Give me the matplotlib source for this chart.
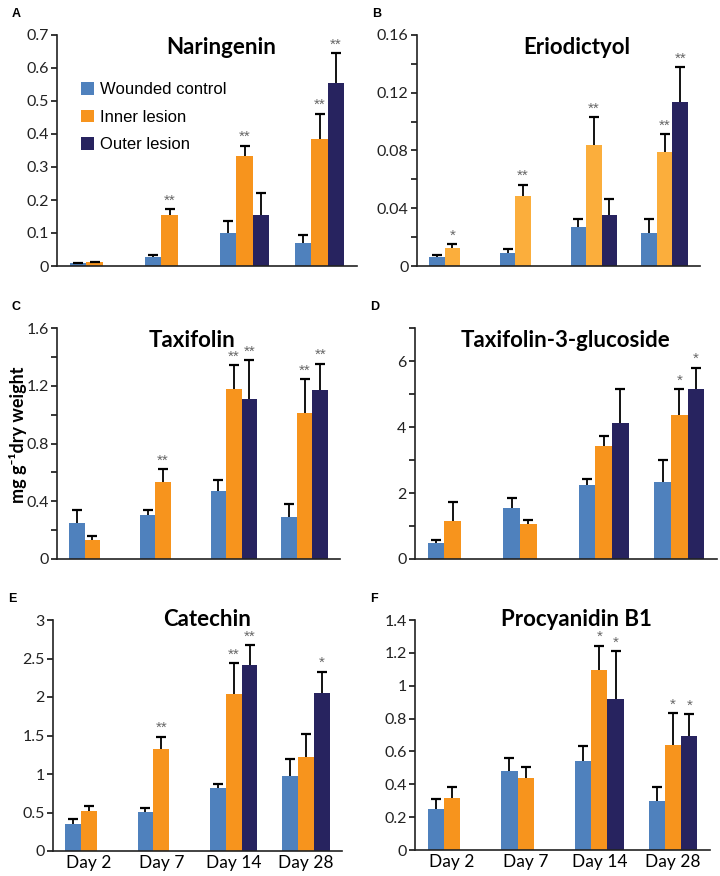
import numpy as np
import matplotlib
matplotlib.use("Agg")
import matplotlib.pyplot as plt
from matplotlib.ticker import MultipleLocator

nan = np.nan

days = ["Day 2", "Day 7", "Day 14", "Day 28"]
series = ["Wounded control", "Inner lesion", "Outer lesion"]

# means per series: wounded control, inner lesion, outer lesion
naringenin_mean = [[0.008, 0.026, 0.099, 0.070], [0.011, 0.156, 0.334, 0.384], [nan, nan, 0.154, 0.555]]
naringenin_err = [[0.002, 0.006, 0.037, 0.025], [0.002, 0.016, 0.031, 0.078], [nan, nan, 0.068, 0.089]]
naringenin_sig = [["", "", "", ""], ["", "**", "**", "**"], ["", "", "", "**"]]

eriodictyol_mean = [[0.0065, 0.0092, 0.0268, 0.0231], [0.0127, 0.0486, 0.0835, 0.0788], [nan, nan, 0.0351, 0.1133]]
eriodictyol_err = [[0.0009, 0.0028, 0.0056, 0.0097], [0.0026, 0.0078, 0.0199, 0.0125], [nan, nan, 0.0114, 0.0247]]
eriodictyol_sig = [["", "", "", ""], ["*", "**", "**", "**"], ["", "", "", "**"]]

taxifolin_mean = [[0.252, 0.302, 0.473, 0.291], [0.134, 0.533, 1.175, 1.009], [nan, nan, 1.111, 1.171]]
taxifolin_err = [[0.085, 0.040, 0.077, 0.092], [0.025, 0.091, 0.171, 0.236], [nan, nan, 0.268, 0.182]]
taxifolin_sig = [["", "", "", ""], ["", "**", "**", "**"], ["", "", "**", "**"]]

t3g_mean = [[0.48, 1.56, 2.23, 2.32], [1.14, 1.05, 3.42, 4.36], [nan, nan, 4.13, 5.15]]
t3g_err = [[0.11, 0.30, 0.20, 0.67], [0.59, 0.13, 0.30, 0.78], [nan, nan, 1.02, 0.65]]
t3g_sig = [["", "", "", ""], ["", "", "", "*"], ["", "", "", "*"]]

catechin_mean = [[0.355, 0.507, 0.824, 0.980], [0.525, 1.322, 2.033, 1.226], [nan, nan, 2.419, 2.055]]
catechin_err = [[0.055, 0.052, 0.052, 0.210], [0.060, 0.165, 0.412, 0.294], [nan, nan, 0.260, 0.275]]
catechin_sig = [["", "", "", ""], ["", "**", "**", ""], ["", "", "**", "*"]]

procyanidin_mean = [[0.252, 0.483, 0.542, 0.298], [0.317, 0.438, 1.098, 0.641], [nan, nan, 0.919, 0.692]]
procyanidin_err = [[0.060, 0.079, 0.091, 0.085], [0.066, 0.065, 0.146, 0.191], [nan, nan, 0.290, 0.134]]
procyanidin_sig = [["", "", "", ""], ["", "", "*", "*"], ["", "", "*", "*"]]

blue = "#4F81BD"
orange = "#F7941D"
orange_light = "#FBAE3C"
navy = "#27235F"

plt.rcParams["font.family"] = ["Lato", "DejaVu Sans"]

fig = plt.figure(figsize=(7.2, 8.76), dpi=100)
W, H = 720.0, 876.0


def add_ax(left, right, top, bottom):
    return fig.add_axes([left / W, 1 - bottom / H, (right - left) / W, (bottom - top) / H])


panels = [
    # letter, title, mean, err, sig, ymax, major, minor, box(l, r, t, b), title pos, inner colour
    ("A", "Naringenin", naringenin_mean, naringenin_err, naringenin_sig, 0.7, 0.1, None,
     (57, 357, 35, 266), (0.547, 0.948), orange),
    ("B", "Eriodictyol", eriodictyol_mean, eriodictyol_err, eriodictyol_sig, 0.16, 0.04, 0.02,
     (417, 700, 35, 266), (0.565, 0.948), orange_light),
    ("C", "Taxifolin", taxifolin_mean, taxifolin_err, taxifolin_sig, 1.6, 0.4, 0.2,
     (57, 340, 328, 559), (0.477, 0.948), orange),
    ("D", "Taxifolin-3-glucoside", t3g_mean, t3g_err, t3g_sig, 7, 2, 1,
     (415, 717, 328, 559), (0.497, 0.948), orange),
    ("E", "Catechin", catechin_mean, catechin_err, catechin_sig, 3, 0.5, None,
     (53, 342, 620, 851), (0.533, 1.0), orange),
    ("F", "Procyanidin B1", procyanidin_mean, procyanidin_err, procyanidin_sig, 1.4, 0.2, None,
     (415, 710, 620, 850), (0.546, 1.0), orange),
]

width = 0.22
x = np.arange(len(days))

for letter, title, mean, err, sig, ymax, major, minor, box, tpos, inner_col in panels:
    ax = add_ax(*box)
    colors = [blue, inner_col, navy]
    for s in range(3):
        m = np.array(mean[s], dtype=float)
        e = np.array(err[s], dtype=float)
        xs = x + (s - 1) * width
        ok = ~np.isnan(m)
        ax.bar(xs[ok], m[ok], width=width, color=colors[s], label=series[s], zorder=2)
        # upward-only error bars
        ax.vlines(xs[ok], m[ok], (m + e)[ok], color="black", linewidth=1.3, zorder=3)
        ax.plot(xs[ok], (m + e)[ok], linestyle="none", marker="_", markersize=7,
                markeredgewidth=1.6, color="black", zorder=3)
        for j in range(len(days)):
            if sig[s][j]:
                ax.annotate(sig[s][j], (xs[j], m[j] + e[j]), xytext=(0, 1),
                            textcoords="offset points", ha="center", va="bottom",
                            fontsize=11, color="#666666", family=["Liberation Sans"])
    ax.set_xlim(-0.5, 3.5)
    ax.set_ylim(0, ymax)
    ax.yaxis.set_major_locator(MultipleLocator(major))
    if minor:
        ax.yaxis.set_minor_locator(MultipleLocator(minor))
        ax.tick_params(axis="y", which="minor", length=4, width=1.1, direction="out")
    ax.yaxis.set_major_formatter(plt.FuncFormatter(lambda v, p: ("%g" % round(v, 4))))
    ax.tick_params(axis="y", which="major", length=4, width=1.1, direction="out",
                   labelsize=11.5, labelcolor="#222222", pad=2)
    ax.tick_params(axis="x", length=0)
    for sp in ["top", "right"]:
        ax.spines[sp].set_visible(False)
    for sp in ["left", "bottom"]:
        ax.spines[sp].set_linewidth(1.2)
        ax.spines[sp].set_color("#222222")
    if letter in ("E", "F"):
        ax.set_xticks(x)
        ax.set_xticklabels(days, fontsize=12.5)
        ax.tick_params(axis="x", pad=3)
    else:
        ax.set_xticks([])
    ax.text(tpos[0], tpos[1], title, transform=ax.transAxes, ha="center", va="center",
            fontsize=16, fontweight="bold")
    fig.text((box[0] - 45) / W, 1 - (box[2] - 21) / H, letter, fontsize=9, fontweight="bold",
             ha="left", va="center", family=["Liberation Sans"])
    if letter == "A":
        ax.legend(loc="upper left", bbox_to_anchor=(0.03, 0.86), frameon=False,
                  handlelength=0.75, handleheight=0.75, handletextpad=0.4, labelspacing=0.75,
                  prop={"family": "Liberation Sans", "size": 12})

fig.text(18 / W, 1 - 435 / H, "mg g\u207b\u00b9dry weight", rotation=90, ha="center",
         va="center", fontsize=13, fontweight="bold", family=["Lato", "DejaVu Sans"])

fig.savefig("out.png", dpi=100)
